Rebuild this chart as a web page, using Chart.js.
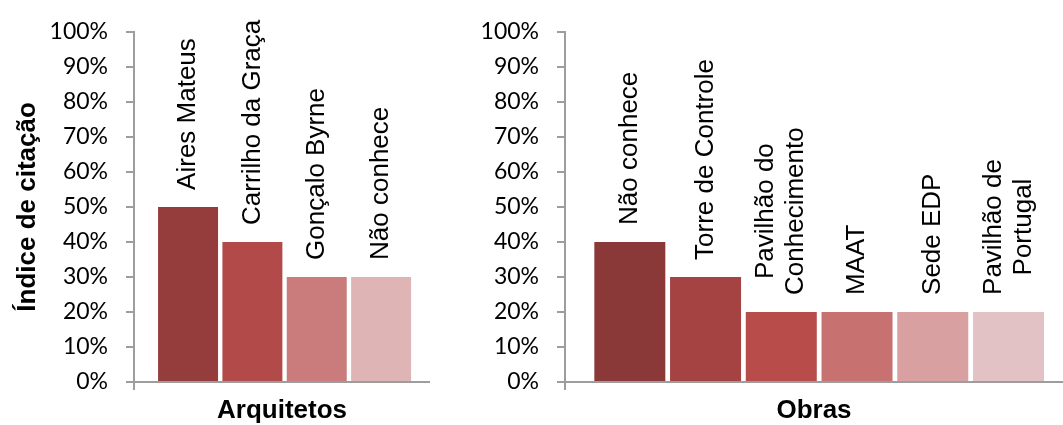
<!DOCTYPE html>
<html>
<head>
<meta charset="utf-8">
<script src="https://cdn.jsdelivr.net/npm/chart.js@4"></script>
<style>
  html, body { margin: 0; padding: 0; background: #fff; }
  #wrap { position: relative; width: 1063px; height: 425px; overflow: hidden; }
  .panel { position: absolute; top: 0; height: 425px; }
  #left { left: 0; width: 430px; }
  #right { left: 430px; width: 633px; }
</style>
</head>
<body>
<div id="wrap">
  <div class="panel" id="left"><canvas id="chartArq"></canvas></div>
  <div class="panel" id="right"><canvas id="chartObras"></canvas></div>
</div>
<script>
// tick labels of the y axis
const yTickLabels = ['0%', '10%', '20%', '30%', '40%', '50%', '60%', '70%', '80%', '90%', '100%'];

// Arquitetos
const arqLabels = ['Aires Mateus', 'Carrilho da Graça', 'Gonçalo Byrne', 'Não conhece'];
const arqValues = [0.5, 0.4, 0.3, 0.3];

// Obras
const obrasLabels = ['Não conhece', 'Torre de Controle', ['Pavilhão do', 'Conhecimento'], 'MAAT', 'Sede EDP', ['Pavilhão de', 'Portugal']];
const obrasValues = [0.4, 0.3, 0.2, 0.2, 0.2, 0.2];

const arqColors = ['#953c3c', '#b24a49', '#ca7b7b', '#dfb4b4'];
const obrasColors = ['#8b3838', '#a54242', '#b84c4b', '#c87171', '#d8a0a0', '#e2c2c4'];

const axisGray = '#9d9d9d';

// rotated labels above the bars (no datalabels plugin offline)
const barLabels = {
    id: 'barLabels',
    afterDatasetsDraw(chart, args, opts) {
        const ctx = chart.ctx
        const meta = chart.getDatasetMeta(0)
        ctx.save()
        ctx.font = '26px "Liberation Sans", Arial, sans-serif'
        ctx.fillStyle = '#000'
        ctx.textBaseline = 'middle'
        ctx.textAlign = 'center'
        meta.data.forEach((bar, i) => {
            const text = opts.labels[i]
            const lines = Array.isArray(text) ? text : [text]
            const w = Math.max(...lines.map(l => ctx.measureText(l).width))
            ctx.save()
            ctx.translate(bar.x, bar.y - 17)
            ctx.rotate(-Math.PI / 2)
            lines.forEach((l, j) => {
                ctx.fillText(l, w / 2, (j - (lines.length - 1) / 2) * 30)
            })
            ctx.restore()
        })
        ctx.restore()
    }
}

function makeChart(canvas, labels, values, colors, cfg) {
    const titleFont = { family: '"Liberation Sans", Arial, sans-serif', size: 26, weight: 'bold', lineHeight: 1 }
    return new Chart(canvas, {
        type: 'bar',
        data: {
            datasets: [{
                data: values.map((v, i) => ({ x: i, y: v })),
                backgroundColor: colors,
                categoryPercentage: 1,
                barPercentage: cfg.barPct,
            }]
        },
        options: {
            responsive: true,
            maintainAspectRatio: false,
            animation: false,
            layout: { padding: { top: 24.5, left: 0, right: 0, bottom: 0 } },
            plugins: {
                legend: { display: false },
                tooltip: { enabled: false },
                barLabels: { labels: labels },
            },
            scales: {
                x: {
                    type: 'linear',
                    min: cfg.xMin,
                    max: cfg.xMax,
                    offset: false,
                    afterFit(scale) { scale.height = 43 },
                    afterBuildTicks(scale) { scale.ticks = [{ value: scale.min }] },
                    ticks: { display: false },
                    grid: { offset: false, drawOnChartArea: false, drawTicks: true, tickLength: 8, color: axisGray, lineWidth: 2 },
                    border: { display: true, color: axisGray, width: 2 },
                    title: { display: true, text: cfg.xTitle, color: '#000', font: titleFont, padding: { top: 0, bottom: 1 } },
                },
                y: {
                    min: 0,
                    max: 1,
                    afterFit(scale) { scale.width = cfg.yWidth },
                    ticks: {
                        stepSize: 0.1,
                        padding: 18,
                        color: '#000',
                        font: { family: 'Lato', size: 23 },
                        callback: (v) => yTickLabels[Math.round(v * 10)],
                    },
                    grid: { drawOnChartArea: false, drawTicks: true, tickLength: 8, color: axisGray, lineWidth: 2 },
                    border: { display: true, color: axisGray, width: 2 },
                    title: { display: !!cfg.yTitle, text: cfg.yTitle, color: '#000', font: titleFont, padding: { top: 15, bottom: 0 } },
                }
            }
        },
        plugins: [barLabels]
    })
}

makeChart(document.getElementById('chartArq'), arqLabels, arqValues, arqColors, {
    xMin: -0.84, xMax: 3.76, barPct: 0.932, yWidth: 134,
    xTitle: 'Arquitetos', yTitle: 'Índice de citação'
})

makeChart(document.getElementById('chartObras'), obrasLabels, obrasValues, obrasColors, {
    xMin: -0.856, xMax: 5.72, barPct: 0.9375, yWidth: 135,
    xTitle: 'Obras', yTitle: ''
})
</script>
</body>
</html>
